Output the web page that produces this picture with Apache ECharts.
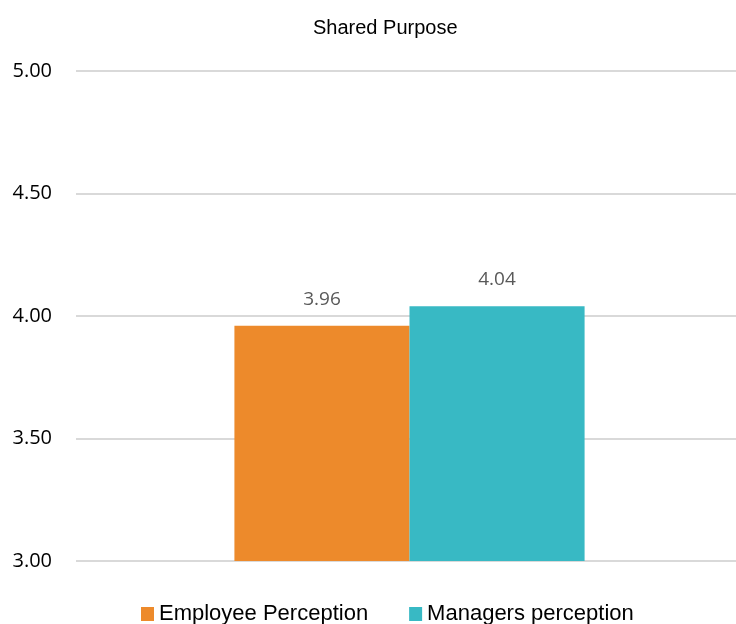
<!DOCTYPE html>
<html><head><meta charset="utf-8">
<script src="https://cdn.jsdelivr.net/npm/echarts@6/dist/echarts.min.js"></script>
<style>html,body{margin:0;padding:0;background:#fff}#c{width:736px;height:624px}</style>
</head><body><div id="c"></div>
<script>
const categories = ['Shared Purpose'];
const seriesNames = ['Employee Perception', 'Managers perception'];
const employeeValues = [3.96];
const managerValues = [4.04];
const colors = ['#ED8A2B', '#38B9C4'];
const yTicks = [3.0, 3.5, 4.0, 4.5, 5.0];

const sans = '"Open Sans", sans-serif';
const lib = '"Liberation Sans", sans-serif';
const chart = echarts.init(document.getElementById('c'));
const mk = (name, data, color) => ({
  name, type: 'bar', data, barGap: '0%', barCategoryGap: '47.5%',
  itemStyle: { color },
  label: { show: true, position: 'top', distance: 17, formatter: p => p.value.toFixed(2),
    color: '#595959', fontSize: 19, fontFamily: sans }
});
chart.setOption({
  animation: false,
  title: { text: categories[0], left: 308, top: 13,
    textStyle: { fontFamily: lib, fontSize: 20, fontWeight: 'normal', color: '#000' } },
  legend: { top: 598, left: 136, itemWidth: 13, itemHeight: 14, itemGap: 41,
    icon: 'rect', textStyle: { fontFamily: lib, fontSize: 22, color: '#000' },
    data: seriesNames },
  grid: { left: 76, right: -7, top: 71, bottom: 63, outerBoundsMode: 'none' },
  xAxis: { type: 'category', data: categories, axisLine: { show: false }, axisTick: { show: false },
    axisLabel: { show: false } },
  yAxis: { type: 'value', min: yTicks[0], max: yTicks[yTicks.length - 1], interval: 0.5,
    axisLine: { show: false }, axisTick: { show: false },
    splitLine: { lineStyle: { color: '#D9D9D9', width: 2 } },
    axisLabel: { margin: 24, formatter: v => v.toFixed(2), color: '#000', fontSize: 20, fontFamily: sans } },
  series: [mk(seriesNames[0], employeeValues, colors[0]), mk(seriesNames[1], managerValues, colors[1])]
});
</script></body></html>
